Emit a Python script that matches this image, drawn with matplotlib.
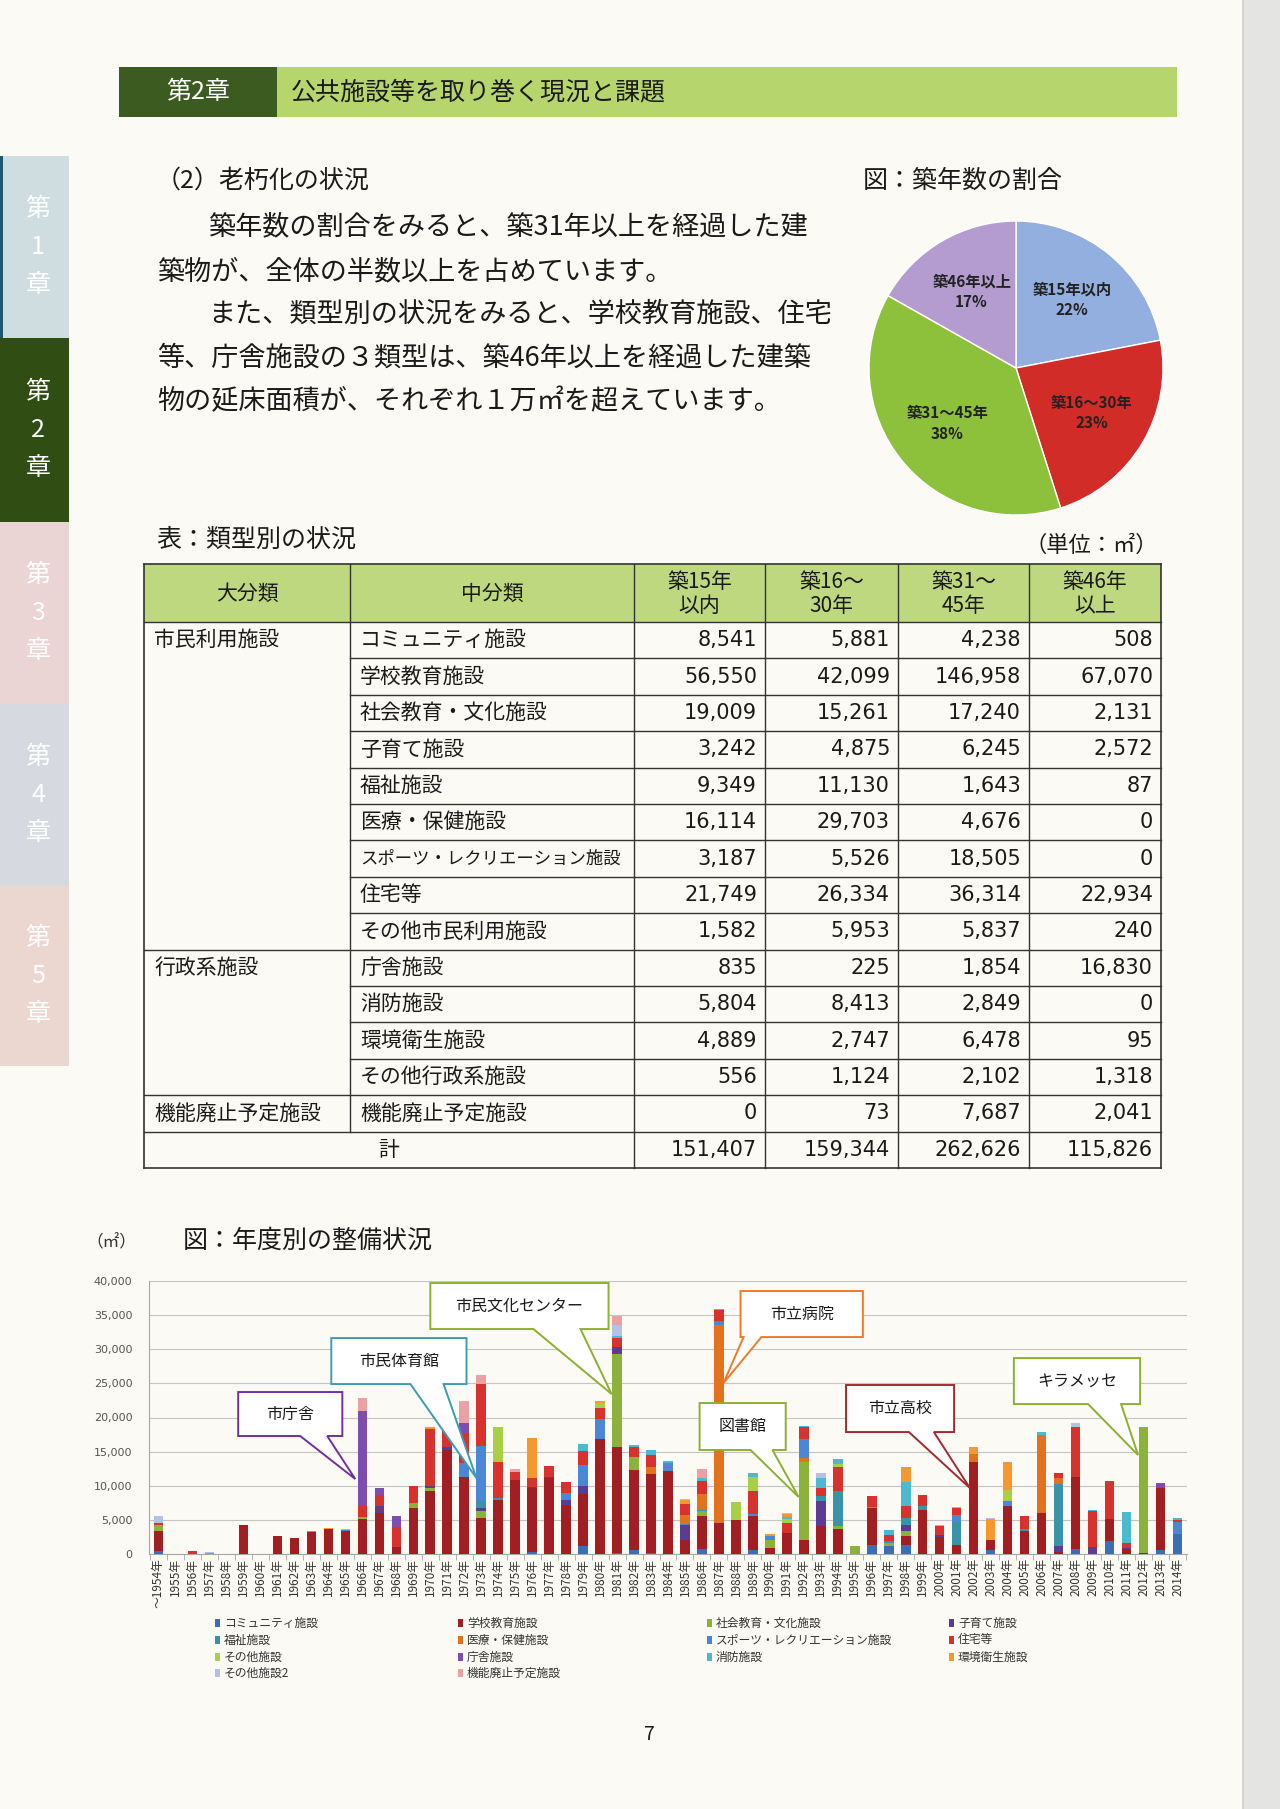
import numpy as np
import matplotlib
matplotlib.use('Agg')
import matplotlib.pyplot as plt
from matplotlib.patches import Rectangle, Polygon

plt.rcParams['font.family'] = ['Noto Sans CJK JP', 'DejaVu Sans']

# ------------------------------------------------------------------ data
age_groups = ['築15年以内', '築16～30年', '築31～45年', '築46年以上']
pie_colors = ['#92AFDF', '#D22C28', '#8DC13B', '#B49CD1']

table_header = ['大分類', '中分類', '築15年\n以内', '築16～\n30年', '築31～\n45年', '築46年\n以上']
major_groups = ['市民利用施設', '行政系施設', '機能廃止予定施設']
major_group_start = [0, 9, 13]
mid_categories = ['コミュニティ施設', '学校教育施設', '社会教育・文化施設', '子育て施設',
                  '福祉施設', '医療・保健施設', 'スポーツ・レクリエーション施設', '住宅等',
                  'その他市民利用施設', '庁舎施設', '消防施設', '環境衛生施設',
                  'その他行政系施設', '機能廃止予定施設']
area_15 = [8541, 56550, 19009, 3242, 9349, 16114, 3187, 21749, 1582, 835, 5804, 4889, 556, 0]
area_16_30 = [5881, 42099, 15261, 4875, 11130, 29703, 5526, 26334, 5953, 225, 8413, 2747, 1124, 73]
area_31_45 = [4238, 146958, 17240, 6245, 1643, 4676, 18505, 36314, 5837, 1854, 2849, 6478, 2102, 7687]
area_46 = [508, 67070, 2131, 2572, 87, 0, 0, 22934, 240, 16830, 0, 95, 1318, 2041]

years = list(range(1954, 2015))
year_labels = ['～1954年'] + [f'{y}年' for y in years[1:]]

series_names = ['コミュニティ施設', '学校教育施設', '社会教育・文化施設', '子育て施設',
                '福祉施設', '医療・保健施設', 'スポーツ・レクリエーション施設', '住宅等',
                'その他施設', '庁舎施設', '消防施設', '環境衛生施設', 'その他施設2', '機能廃止予定施設']
series_colors = ['#3D6DB5', '#A11E22', '#8BB23A', '#5C3B90', '#3A93A7', '#E2721E', '#4C86D6',
                 '#D8322E', '#A9CF46', '#7D4DB0', '#4DB9D1', '#F7972F', '#B5C0E4', '#E9A1A4']

s_community = {1954: 500, 1976: 250, 1979: 1220, 1981: 150, 1982: 630, 1983: 150, 1986: 730,
               1989: 630, 1996: 1360, 1997: 1220, 1998: 1360, 2003: 630, 2008: 780, 2010: 1850,
               2013: 630, 2014: 2970}
s_school = {1954: 2800, 1959: 4200, 1961: 2600, 1962: 2400, 1963: 3200, 1964: 3700, 1965: 3400,
            1966: 5200, 1967: 6000, 1968: 1000, 1969: 6800, 1970: 9250, 1971: 15250, 1972: 11250,
            1973: 5260, 1974: 7940, 1975: 10770, 1976: 9400, 1977: 11100, 1978: 7160, 1979: 7550,
            1980: 16800, 1981: 15490, 1982: 11700, 1983: 11590, 1984: 12230, 1985: 2000, 1986: 4770,
            1987: 4530, 1988: 5020, 1989: 4870, 1990: 880, 1991: 3070, 1992: 2050, 1993: 4140,
            1994: 3700, 1996: 5310, 1998: 1220, 1999: 6480, 2000: 2480, 2001: 1320, 2002: 13500,
            2003: 1460, 2004: 6970, 2005: 3310, 2006: 6000, 2007: 300, 2008: 10470, 2010: 3260,
            2011: 730, 2012: 150, 2013: 9110}
s_social = {1954: 900, 1957: 150, 1963: 100, 1966: 150, 1969: 700, 1970: 350, 1973: 1070,
            1981: 13690, 1982: 1850, 1986: 730, 1990: 1220, 1992: 11400, 1994: 440, 1995: 1120,
            1997: 390, 1998: 730, 2012: 18320}
s_child = {1967: 1050, 1970: 400, 1971: 450, 1973: 400, 1976: 200, 1977: 150, 1978: 680,
           1979: 1220, 1981: 1070, 1985: 2190, 1993: 3560, 1998: 880, 2000: 300, 2007: 820,
           2009: 980, 2011: 150}
s_welfare = {1973: 980, 1974: 250, 1985: 150, 1986: 250, 1993: 730, 1994: 5120, 1997: 240,
             1998: 1070, 1999: 580, 2001: 3360, 2005: 340, 2007: 9160}
s_medical = {1983: 980, 1985: 1410, 1986: 2290, 1987: 28990, 1992: 580, 1996: 150, 2002: 1120,
             2006: 11440, 2007: 830}
s_sports = {1965: 150, 1972: 2050, 1973: 8130, 1978: 1080, 1979: 3020, 1980: 2980, 1984: 1170,
            1987: 580, 1989: 400, 1990: 580, 1992: 2780, 2001: 1070, 2004: 830, 2014: 1660}
s_housing = {1954: 300, 1956: 500, 1966: 1700, 1967: 1560, 1968: 3000, 1969: 2400, 1970: 8350,
             1971: 5400, 1972: 4400, 1973: 9070, 1974: 5360, 1975: 1310, 1976: 1350, 1977: 1650,
             1978: 1600, 1979: 2100, 1980: 1660, 1981: 1320, 1982: 1560, 1983: 1750, 1985: 1600,
             1986: 1950, 1987: 1610, 1989: 3260, 1991: 1460, 1992: 1750, 1993: 1310, 1994: 3560,
             1996: 1750, 1997: 1000, 1998: 1710, 1999: 1610, 2000: 1360, 2001: 920, 2005: 1950,
             2007: 730, 2008: 7410, 2009: 5260, 2010: 5410, 2011: 730, 2013: 150, 2014: 390}
s_other = {1965: 100, 1974: 5020, 1980: 730, 1988: 2580, 1989: 2090, 1991: 590, 1994: 340,
           2000: 150, 2001: 200, 2004: 1510}
s_office = {1966: 13900, 1967: 1120, 1968: 1600, 1971: 150, 1972: 1550, 2010: 200, 2013: 490}
s_fire = {1979: 980, 1981: 250, 1982: 250, 1983: 780, 1984: 250, 1986: 390, 1987: 250, 1989: 590,
          1991: 290, 1992: 250, 1993: 1460, 1994: 730, 1997: 700, 1998: 3560, 2006: 490,
          2009: 240, 2011: 4530, 2012: 200, 2014: 250}
s_env = {1964: 100, 1970: 200, 1976: 5750, 1980: 200, 1985: 580, 1990: 240, 1991: 440,
         1998: 2190, 2002: 1070, 2003: 3100, 2004: 4140}
s_other2 = {1954: 1000, 1957: 150, 1981: 1560, 1985: 200, 1991: 200, 1993: 640, 2003: 150, 2008: 490}
s_closing = {1966: 1850, 1972: 3150, 1973: 1300, 1975: 440, 1981: 1320, 1986: 1360}

series_values = [s_community, s_school, s_social, s_child, s_welfare, s_medical, s_sports,
                 s_housing, s_other, s_office, s_fire, s_env, s_other2, s_closing]

# callouts: label, colour, box (x0, x1, y0, y1) in data units, tail base x, tail tip (x, y)
callouts = [
    ('市庁舎', '#7030A0', (4.70, 10.83, 17290, 23730), (8.35, 9.94), (11.59, 10990)),
    ('市民体育館', '#3C9CB4', (10.18, 18.14, 24900, 31640), (14.84, 16.79), (18.72, 11130)),
    ('市民文化センター', '#8DB030', (16.01, 26.50, 32960, 39700), (22.08, 24.85), (26.68, 23440)),
    ('市立病院', '#EE7A2A', (34.27, 41.47, 31790, 38530), (34.45, 35.5), (33.27, 25050)),
    ('図書館', '#8DB030', (31.86, 36.93, 15240, 22120), (34.86, 36.15), (37.69, 8350)),
    ('市立高校', '#A52A2E', (40.48, 46.84, 17870, 24760), (44.18, 45.65), (47.77, 9670)),
    ('キラメッセ', '#8DB030', (50.36, 57.79, 21970, 28710), (54.73, 56.67), (57.67, 14500)),
]

# ------------------------------------------------------------------ layout
W, H = 1280, 1809
BG = '#FBFAF4'
fig = plt.figure(figsize=(W / 100, H / 100), dpi=100, facecolor=BG)


def frac(x0, y0, x1, y1):
    return [x0 / W, 1 - y1 / H, (x1 - x0) / W, (y1 - y0) / H]


page = fig.add_axes([0, 0, 1, 1])
page.set_xlim(0, W)
page.set_ylim(H, 0)
page.axis('off')

# right scan edge
page.add_patch(Rectangle((1243, 0), 37, H, fc='#E4E4E2', ec='none'))
page.plot([1243, 1243], [0, H], color='#CFCFCD', lw=1.2)

# header bar
page.add_patch(Rectangle((119, 67), 1058, 50, fc='#B7D56D', ec='none'))
page.add_patch(Rectangle((119, 67), 158, 50, fc='#3C5B20', ec='none'))
page.text(198, 92, '第2章', color='white', fontsize=18, ha='center', va='center')
page.text(291, 92, '公共施設等を取り巻く現況と課題', fontsize=18, color='#1A1A1A', va='center')

# side tabs
tabs = [(156, 338, '#CFDDE0', '1'), (338, 522, '#304D14', '2'), (522, 704, '#EAD5D4', '3'),
        (704, 886, '#D6DAE0', '4'), (886, 1066, '#ECD6D0', '5')]
for y0, y1, c, n in tabs:
    page.add_patch(Rectangle((0, y0), 69, y1 - y0, fc=c, ec='none'))
    cy = (y0 + y1) / 2
    for k, ch in enumerate(['第', n, '章']):
        page.text(38, cy + (k - 1) * 38, ch, color='white', fontsize=18, ha='center', va='center')
page.add_patch(Rectangle((0, 156), 3, 182, fc='#1F5868', ec='none'))

# body text
page.text(156, 181, '（2）老朽化の状況', fontsize=18, color='#1A1A1A', va='center')
body_lines = [(208, 227, '築年数の割合をみると、築31年以上を経過した建'),
              (157, 272, '築物が、全体の半数以上を占めています。'),
              (208, 314, 'また、類型別の状況をみると、学校教育施設、住宅'),
              (157, 358, '等、庁舎施設の３類型は、築46年以上を経過した建築'),
              (157, 402, '物の延床面積が、それぞれ１万㎡を超えています。')]
for x, y, s in body_lines:
    page.text(x, y, s, fontsize=19.5, color='#1A1A1A', va='center')

page.text(863, 181, '図：築年数の割合', fontsize=18, color='#1A1A1A', va='center')

# ------------------------------------------------------------------ pie
totals = [sum(area_15), sum(area_16_30), sum(area_31_45), sum(area_46)]
tot = sum(totals)
pie_labels = [f'{g}\n{round(v / tot * 100)}%' for g, v in zip(age_groups, totals)]
axp = fig.add_axes(frac(1016 - 150, 368 - 150, 1016 + 150, 368 + 150))
wedges, texts = axp.pie(totals, colors=pie_colors, startangle=90, counterclock=False,
                        labels=pie_labels, labeldistance=0.6,
                        wedgeprops=dict(edgecolor='white', linewidth=1.0),
                        textprops=dict(fontsize=11, fontweight='bold', color='#222222',
                                       linespacing=1.35))
for t in texts:
    t.set_ha('center')
    t.set_va('center')
axp.set_xlim(-150 / 147, 150 / 147)
axp.set_ylim(-150 / 147, 150 / 147)
axp.set_aspect('equal')
axp.axis('off')

# ------------------------------------------------------------------ table
page.text(156, 540, '表：類型別の状況', fontsize=18, color='#1A1A1A', va='center')
page.text(1158, 545, '（単位：㎡）', fontsize=16, color='#1A1A1A', va='center', ha='right')

cols = [144, 350, 634, 765, 898, 1029, 1161]
ht, hb = 564, 622
nrows = len(mid_categories) + 1
rh = (1168 - hb) / nrows
tb = hb + nrows * rh
LC = '#333333'
page.add_patch(Rectangle((cols[0], ht), cols[-1] - cols[0], hb - ht, fc='#BED87F', ec='none'))
page.plot([cols[0], cols[-1]], [ht, ht], color=LC, lw=1.2)
page.plot([cols[0], cols[-1]], [hb, hb], color=LC, lw=1.0)
page.plot([cols[0], cols[-1]], [tb, tb], color=LC, lw=1.2)
group_bounds = set(major_group_start[1:] + [len(mid_categories)])
for k in range(1, nrows):
    y = hb + k * rh
    x0 = cols[0] if k in group_bounds else cols[1]
    page.plot([x0, cols[-1]], [y, y], color=LC, lw=1.0)
for i, x in enumerate(cols):
    yend = tb if i != 1 else hb + len(mid_categories) * rh
    page.plot([x, x], [ht, yend], color=LC, lw=1.2 if i in (0, 6) else 1.0)

for i, lab in enumerate(table_header):
    page.text((cols[i] + cols[i + 1]) / 2, (ht + hb) / 2 + 1, lab, fontsize=15, ha='center',
              va='center', linespacing=1.15, color='#1A1A1A')
for g, r in zip(major_groups, major_group_start):
    page.text(cols[0] + 10, hb + (r + 0.5) * rh, g, fontsize=15, va='center', color='#1A1A1A')
value_cols = [area_15, area_16_30, area_31_45, area_46]
for r, name in enumerate(mid_categories):
    cy = hb + (r + 0.5) * rh
    fs = 12.5 if len(name) > 12 else 15
    page.text(cols[1] + 10, cy, name, fontsize=fs, va='center', color='#1A1A1A')
    for j, vc in enumerate(value_cols):
        page.text(cols[j + 3] - 8, cy, f'{vc[r]:,}', fontsize=15, va='center', ha='right',
                  family='DejaVu Sans', color='#1A1A1A')
cy = hb + (nrows - 0.5) * rh
page.text((cols[0] + cols[2]) / 2, cy, '計', fontsize=15, ha='center', va='center', color='#1A1A1A')
for j, t in enumerate(totals):
    page.text(cols[j + 3] - 8, cy, f'{t:,}', fontsize=15, va='center', ha='right',
              family='DejaVu Sans', color='#1A1A1A')

# ------------------------------------------------------------------ bar chart
page.text(86, 1243, '（㎡）', fontsize=12, color='#333333', va='center')
page.text(183, 1241, '図：年度別の整備状況', fontsize=18, color='#1A1A1A', va='center')

ax = fig.add_axes(frac(149, 1281, 1187, 1554))
ax.set_facecolor('none')
x = np.arange(len(years))
bottom = np.zeros(len(years))
for name, col, d in zip(series_names, series_colors, series_values):
    vals = np.array([d.get(y, 0) for y in years], dtype=float)
    ax.bar(x, vals, 0.55, bottom=bottom, color=col, linewidth=0, zorder=3)
    bottom += vals
ax.set_xlim(-0.55, len(years) - 0.45)
ax.set_ylim(0, 40000)
ax.set_yticks(np.arange(0, 40001, 5000))
ax.set_yticklabels([f'{v:,}' for v in range(0, 40001, 5000)], family='DejaVu Sans',
                   fontsize=8, color='#555555')
ax.tick_params(axis='y', length=0, pad=12)
ax.yaxis.grid(True, color='#C4C4C4', lw=0.8, zorder=0)
ax.set_axisbelow(True)
for s in ('top', 'right'):
    ax.spines[s].set_visible(False)
ax.spines['left'].set_color('#A8A8A8')
ax.spines['bottom'].set_color('#A8A8A8')
ax.set_xticks(x)
ax.set_xticklabels(year_labels, rotation=90, fontsize=8.5, color='#333333')
ax.tick_params(axis='x', length=0, pad=3)
ax.set_xticks(np.arange(-0.5, len(years), 1), minor=True)
ax.tick_params(axis='x', which='minor', length=4, color='#A8A8A8')

for lab, col, (bx0, bx1, by0, by1), (b1, b2), (tx, ty) in callouts:
    pts = [(bx0, by1), (bx1, by1), (bx1, by0), (b2, by0), (tx, ty), (b1, by0), (bx0, by0)]
    ax.add_patch(Polygon(pts, closed=True, fc='white', ec=col, lw=1.4, zorder=4, clip_on=False,
                         joinstyle='miter'))
    ax.text((bx0 + bx1) / 2, (by0 + by1) / 2, lab, fontsize=11.5, ha='center', va='center',
            color='#1A1A1A', zorder=5)

# legend (row-major, 4 columns)
leg_x = [218, 461, 710, 952]
leg_y = [1623, 1640, 1657, 1673]
for i, (name, col) in enumerate(zip(series_names, series_colors)):
    lx, ly = leg_x[i % 4], leg_y[i // 4]
    page.add_patch(Rectangle((lx - 3, ly - 4), 5, 8, fc=col, ec='none'))
    page.text(lx + 6, ly, name, fontsize=8.5, va='center', color='#333333')

page.text(649, 1735, '7', fontsize=14, ha='center', va='center', color='#1A1A1A')

fig.savefig('out.png', dpi=100, facecolor=BG)
